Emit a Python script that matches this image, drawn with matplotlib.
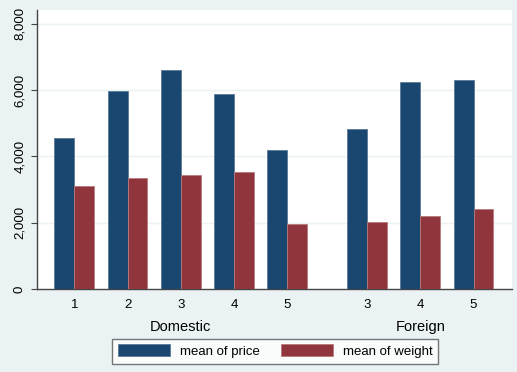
import matplotlib
matplotlib.use("Agg")
import matplotlib.pyplot as plt
import numpy as np

plt.rcParams["font.family"] = ["Liberation Sans", "DejaVu Sans"]

# mean price / weight by repair record, domestic vs foreign
groups = ["Domestic", "Foreign"]
rep_labels = ["1", "2", "3", "4", "5", "3", "4", "5"]
group_of = [0, 0, 0, 0, 0, 1, 1, 1]
mean_price = [4564.5, 5967.6, 6607.1, 5881.6, 4204.5, 4828.7, 6261.4, 6292.7]
mean_weight = [3100.0, 3353.8, 3442.2, 3532.2, 1960.0, 2010.0, 2207.8, 2403.6]

bg = "#EAF2F3"
blue = "#1A476F"
red = "#90353B"

fig = plt.figure(figsize=(5.17, 3.72), dpi=100, facecolor=bg)
ax = fig.add_axes([0.0716, 0.2231, 0.9184, 0.750])
ax.set_facecolor("white")

# positions: gap of 1.5 between the two groups
pos = []
p = 0.0
for i, g in enumerate(group_of):
    if i > 0:
        p += 1.5 if g != group_of[i - 1] else 1.0
    pos.append(p)
pos = np.array(pos)
w = 0.375

ax.bar(pos - w / 2, mean_price, w, color=blue, edgecolor="#5A7A96", linewidth=0.6,
       label="mean of price", zorder=3)
ax.bar(pos + w / 2, mean_weight, w, color=red, edgecolor="#B87A7E", linewidth=0.6,
       label="mean of weight", zorder=3)

ax.set_xlim(-0.7, 8.22)
ax.set_ylim(0, 8420)
ax.set_yticks([0, 2000, 4000, 6000, 8000])
ax.set_yticklabels(["0", "2,000", "4,000", "6,000", "8,000"], rotation=90,
                   va="center", fontsize=9.5)
ax.tick_params(axis="y", length=4, color="#444444", pad=4)
ax.set_xticks(pos)
ax.set_xticklabels(rep_labels, fontsize=9.5)
ax.tick_params(axis="x", length=0, pad=7)

for y in [2000, 4000, 6000, 8000]:
    ax.axhline(y, color=bg, linewidth=1.0, zorder=1)

for s in ["top", "right"]:
    ax.spines[s].set_visible(False)
for s in ["left", "bottom"]:
    ax.spines[s].set_color("#444444")
    ax.spines[s].set_linewidth(1.0)

# group labels under the tick labels
for gi, name in enumerate(groups):
    gp = pos[[i for i, g in enumerate(group_of) if g == gi]]
    ax.text(gp.mean(), -0.135, name, transform=ax.get_xaxis_transform(),
            ha="center", va="center", fontsize=10.5)

leg = fig.legend(loc="center", bbox_to_anchor=(0.532, 0.056), ncol=2, fontsize=9.5,
                 frameon=True, fancybox=False, handlelength=4.0, handleheight=1.0,
                 columnspacing=1.6, borderpad=0.45, handletextpad=0.7)
leg.get_frame().set_edgecolor("#555555")
leg.get_frame().set_linewidth(1.0)
leg.get_frame().set_facecolor("white")

fig.savefig("out.png", dpi=100, facecolor=bg)
